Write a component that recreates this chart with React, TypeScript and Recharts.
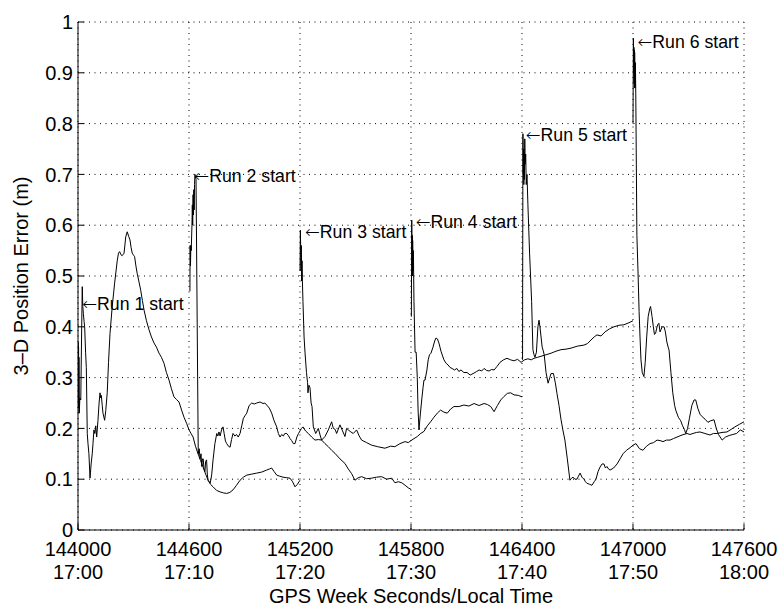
import { LineChart, Line, XAxis, YAxis, CartesianGrid, ReferenceDot } from 'recharts';

const FONT = '"Liberation Sans", Arial, Helvetica, sans-serif';

const xTicks = [144000, 144600, 145200, 145800, 146400, 147000, 147600];
const timeLabels = ['17:00', '17:10', '17:20', '17:30', '17:40', '17:50', '18:00'];
const yTicks = [0, 0.1, 0.2, 0.3, 0.4, 0.5, 0.6, 0.7, 0.8, 0.9, 1];

// [GPS week seconds, 3-D error (m)]
const run1: [number, number][] = [
  [144000, 0.23], [144001, 0.37], [144002, 0.25], [144003, 0.36], [144004, 0.24], [144005, 0.34], [144007, 0.23],
  [144010, 0.26], [144015, 0.256], [144020, 0.4], [144023, 0.479], [144026, 0.44], [144029, 0.426], [144033, 0.41],
  [144036, 0.4], [144041, 0.35], [144045, 0.32], [144050, 0.19], [144054, 0.17], [144059, 0.15], [144065, 0.102],
  [144071, 0.13], [144077, 0.15], [144081, 0.17], [144086, 0.197], [144091, 0.19], [144096, 0.205], [144101, 0.183],
  [144108, 0.216], [144114, 0.25], [144119, 0.27], [144123, 0.26], [144126, 0.265], [144131, 0.245], [144135, 0.23],
  [144144, 0.216], [144150, 0.235], [144158, 0.27], [144165, 0.33], [144173, 0.387], [144185, 0.44], [144198, 0.486],
  [144212, 0.53], [144219, 0.545], [144225, 0.548], [144232, 0.542], [144239, 0.54], [144249, 0.545], [144258, 0.577],
  [144266, 0.587], [144274, 0.578], [144281, 0.571], [144287, 0.556], [144293, 0.545], [144300, 0.541], [144306, 0.538],
  [144313, 0.52], [144320, 0.505], [144330, 0.488], [144339, 0.472], [144348, 0.452], [144357, 0.433], [144370, 0.412],
  [144384, 0.394], [144397, 0.38], [144411, 0.368], [144424, 0.36], [144438, 0.348], [144451, 0.34], [144465, 0.328],
  [144478, 0.31], [144492, 0.295], [144505, 0.278], [144519, 0.262], [144532, 0.257], [144546, 0.252], [144560, 0.236],
  [144573, 0.222], [144587, 0.21], [144600, 0.197], [144611, 0.19], [144622, 0.183], [144635, 0.165], [144649, 0.15],
  [144662, 0.137], [144676, 0.124], [144690, 0.11], [144703, 0.098], [144716, 0.09], [144730, 0.085], [144749, 0.078],
  [144768, 0.075], [144786, 0.073], [144804, 0.072], [144821, 0.074], [144838, 0.079], [144857, 0.088], [144876, 0.098],
  [144894, 0.104], [144912, 0.108], [144939, 0.11], [144966, 0.112], [144993, 0.114], [145020, 0.118], [145034, 0.12],
  [145047, 0.122], [145060, 0.115], [145074, 0.108], [145090, 0.106], [145108, 0.104], [145127, 0.103], [145146, 0.102],
  [145160, 0.095], [145173, 0.085], [145186, 0.09], [145200, 0.098],
];

const run2: [number, number][] = [
  [144605, 0.47], [144606, 0.56], [144608, 0.52], [144610, 0.56], [144612, 0.55], [144616, 0.6], [144618, 0.64],
  [144620, 0.6], [144622, 0.66], [144624, 0.62], [144626, 0.67], [144628, 0.63], [144630, 0.68], [144632, 0.7],
  [144638, 0.69], [144650, 0.15], [144655, 0.16], [144660, 0.14], [144665, 0.15], [144669, 0.125], [144673, 0.14],
  [144677, 0.14], [144681, 0.12], [144686, 0.115], [144690, 0.135], [144695, 0.138], [144699, 0.11], [144703, 0.098],
  [144709, 0.095], [144714, 0.092], [144719, 0.1], [144723, 0.11], [144730, 0.138], [144740, 0.17], [144750, 0.19],
  [144756, 0.185], [144762, 0.193], [144768, 0.185], [144776, 0.197], [144784, 0.203], [144790, 0.19], [144797, 0.175],
  [144804, 0.17], [144813, 0.165], [144822, 0.163], [144830, 0.178], [144838, 0.19], [144848, 0.185], [144857, 0.188],
  [144866, 0.183], [144876, 0.19], [144885, 0.205], [144894, 0.22], [144903, 0.225], [144912, 0.23], [144925, 0.245],
  [144939, 0.25], [144952, 0.248], [144966, 0.25], [144984, 0.252], [145000, 0.249], [145010, 0.25], [145020, 0.246],
  [145034, 0.24], [145047, 0.23], [145060, 0.215], [145074, 0.203], [145083, 0.19], [145092, 0.183], [145101, 0.188],
  [145110, 0.185], [145118, 0.19], [145128, 0.19], [145137, 0.186], [145146, 0.18], [145155, 0.176], [145164, 0.17],
  [145173, 0.17], [145183, 0.183], [145192, 0.19], [145200, 0.195], [145208, 0.2], [145216, 0.203], [145230, 0.195],
  [145245, 0.19], [145263, 0.183], [145281, 0.177], [145299, 0.178], [145317, 0.177], [145335, 0.17], [145353, 0.164],
  [145371, 0.157], [145389, 0.151], [145416, 0.14], [145443, 0.131], [145461, 0.12], [145479, 0.111], [145497, 0.098],
  [145515, 0.103], [145533, 0.105], [145560, 0.101], [145587, 0.102], [145614, 0.104], [145641, 0.105], [145668, 0.1],
  [145696, 0.102], [145713, 0.093], [145731, 0.095], [145750, 0.093], [145768, 0.088], [145785, 0.083], [145800, 0.08],
];

const run3: [number, number][] = [
  [145200, 0.51], [145202, 0.59], [145204, 0.55], [145206, 0.51], [145207, 0.56], [145209, 0.49], [145211, 0.53],
  [145213, 0.49], [145216, 0.45], [145222, 0.38], [145227, 0.35], [145235, 0.31], [145241, 0.29], [145243, 0.27],
  [145248, 0.285], [145254, 0.28], [145260, 0.25], [145265, 0.243], [145272, 0.203], [145285, 0.19], [145299, 0.2],
  [145310, 0.185], [145317, 0.177], [145335, 0.184], [145353, 0.197], [145371, 0.213], [145380, 0.2], [145390, 0.198],
  [145398, 0.19], [145416, 0.207], [145430, 0.195], [145443, 0.184], [145452, 0.2], [145461, 0.197], [145475, 0.193],
  [145488, 0.19], [145506, 0.197], [145520, 0.185], [145533, 0.177], [145560, 0.172], [145587, 0.167], [145620, 0.164],
  [145659, 0.161], [145690, 0.165], [145713, 0.164], [145740, 0.17], [145768, 0.174], [145785, 0.172], [145804, 0.177],
  [145834, 0.184], [145852, 0.19], [145870, 0.194], [145888, 0.205], [145906, 0.213], [145924, 0.222], [145942, 0.23],
  [145960, 0.236], [145978, 0.232], [145996, 0.23], [146014, 0.238], [146032, 0.243], [146059, 0.243], [146086, 0.246],
  [146113, 0.244], [146141, 0.249], [146168, 0.245], [146195, 0.249], [146213, 0.247], [146231, 0.243], [146249, 0.233],
  [146267, 0.245], [146285, 0.256], [146303, 0.263], [146321, 0.269], [146339, 0.27], [146357, 0.266], [146380, 0.265],
  [146400, 0.262],
];

const run4: [number, number][] = [
  [145802, 0.42], [145804, 0.61], [145806, 0.52], [145807, 0.58], [145808, 0.5], [145809, 0.57], [145811, 0.51],
  [145813, 0.55], [145816, 0.45], [145822, 0.35], [145828, 0.35], [145834, 0.3], [145838, 0.24], [145843, 0.197],
  [145851, 0.23], [145859, 0.26], [145865, 0.28], [145870, 0.295], [145876, 0.295], [145886, 0.315], [145893, 0.335],
  [145900, 0.345], [145908, 0.348], [145919, 0.36], [145928, 0.372], [145935, 0.378], [145943, 0.376], [145951, 0.368],
  [145962, 0.352], [145978, 0.335], [145990, 0.328], [146000, 0.325], [146011, 0.32], [146022, 0.318], [146035, 0.315],
  [146048, 0.318], [146059, 0.312], [146070, 0.315], [146086, 0.31], [146103, 0.31], [146120, 0.305], [146141, 0.309],
  [146155, 0.312], [146168, 0.315], [146182, 0.313], [146195, 0.318], [146209, 0.314], [146222, 0.313], [146236, 0.316],
  [146249, 0.315], [146265, 0.322], [146281, 0.33], [146300, 0.335], [146319, 0.338], [146338, 0.335], [146357, 0.333],
  [146376, 0.336], [146395, 0.33], [146414, 0.335], [146432, 0.337], [146450, 0.335], [146465, 0.338], [146485, 0.34],
  [146503, 0.342], [146530, 0.345], [146557, 0.348], [146584, 0.352], [146611, 0.355], [146638, 0.356], [146665, 0.358],
  [146700, 0.362], [146735, 0.364], [146754, 0.367], [146773, 0.374], [146790, 0.38], [146805, 0.384], [146827, 0.382],
  [146849, 0.39], [146873, 0.396], [146897, 0.4], [146924, 0.403], [146951, 0.404], [146978, 0.408], [147000, 0.412],
];

const run5: [number, number][] = [
  [146403, 0.335], [146405, 0.78], [146407, 0.7], [146408, 0.75], [146410, 0.68], [146411, 0.74], [146413, 0.69],
  [146415, 0.77], [146417, 0.72], [146420, 0.74], [146423, 0.68], [146427, 0.7], [146432, 0.64], [146441, 0.545],
  [146452, 0.45], [146459, 0.355], [146465, 0.345], [146470, 0.34], [146478, 0.35], [146486, 0.4], [146492, 0.413],
  [146497, 0.4], [146503, 0.38], [146509, 0.36], [146514, 0.354], [146520, 0.345], [146530, 0.31], [146541, 0.289],
  [146550, 0.3], [146557, 0.308], [146570, 0.308], [146580, 0.29], [146589, 0.269], [146600, 0.245], [146611, 0.217],
  [146622, 0.195], [146632, 0.177], [146645, 0.14], [146659, 0.098], [146668, 0.102], [146676, 0.104], [146686, 0.1],
  [146697, 0.1], [146705, 0.106], [146714, 0.112], [146724, 0.104], [146735, 0.1], [146743, 0.095], [146751, 0.092],
  [146765, 0.09], [146778, 0.088], [146790, 0.095], [146800, 0.1], [146811, 0.115], [146822, 0.124], [146833, 0.13],
  [146843, 0.13], [146851, 0.122], [146859, 0.125], [146868, 0.12], [146876, 0.118], [146895, 0.122], [146914, 0.13],
  [146930, 0.14], [146946, 0.15], [146965, 0.157], [146984, 0.162], [147000, 0.167], [147016, 0.17], [147035, 0.16],
  [147054, 0.157], [147073, 0.165], [147092, 0.17], [147111, 0.172], [147130, 0.177], [147146, 0.176], [147162, 0.174],
  [147181, 0.177], [147200, 0.177], [147219, 0.18], [147238, 0.183], [147265, 0.187], [147292, 0.19], [147308, 0.188],
  [147324, 0.19], [147343, 0.192], [147362, 0.193], [147389, 0.19], [147416, 0.187], [147435, 0.19], [147454, 0.19],
  [147481, 0.192], [147508, 0.193], [147530, 0.198], [147551, 0.203], [147575, 0.208], [147600, 0.213],
];

const run6: [number, number][] = [
  [147000, 0.8], [147002, 0.968], [147004, 0.9], [147005, 0.95], [147006, 0.88], [147007, 0.945], [147008, 0.87],
  [147009, 0.94], [147011, 0.87], [147013, 0.92], [147015, 0.86], [147018, 0.72], [147021, 0.58], [147027, 0.51],
  [147033, 0.43], [147038, 0.38], [147043, 0.335], [147050, 0.31], [147059, 0.302], [147066, 0.33], [147074, 0.38],
  [147082, 0.42], [147090, 0.435], [147095, 0.44], [147103, 0.42], [147110, 0.4], [147116, 0.385], [147122, 0.387],
  [147130, 0.4], [147135, 0.405], [147140, 0.407], [147146, 0.39], [147152, 0.395], [147158, 0.4], [147168, 0.4],
  [147175, 0.39], [147183, 0.37], [147190, 0.36], [147195, 0.354], [147205, 0.31], [147215, 0.27], [147225, 0.245],
  [147231, 0.236], [147245, 0.222], [147258, 0.215], [147268, 0.205], [147278, 0.198], [147285, 0.19], [147295, 0.2],
  [147305, 0.22], [147318, 0.245], [147330, 0.256], [147339, 0.256], [147350, 0.24], [147362, 0.228], [147374, 0.223],
  [147390, 0.218], [147405, 0.212], [147420, 0.215], [147438, 0.217], [147450, 0.2], [147462, 0.188], [147482, 0.177],
  [147500, 0.183], [147520, 0.186], [147540, 0.188], [147560, 0.19], [147580, 0.197], [147600, 0.193],
];

const runs = [run1, run2, run3, run4, run5, run6];

// where each "Run N start" arrow points
const startT = [144023, 144629, 145227, 145825, 146420, 147024];
const startV = [0.446, 0.698, 0.587, 0.607, 0.778, 0.961];
const startLabels = ['Run 1 start', 'Run 2 start', 'Run 3 start', 'Run 4 start', 'Run 5 start', 'Run 6 start'];

function XTick(props: any) {
  const { x, y, payload } = props;
  const i = xTicks.indexOf(payload.value);
  return (
    <g fontFamily={FONT} fontSize={20} fill="#000" textAnchor="middle">
      <text x={x} y={y + 26}>{payload.value}</text>
      <text x={x} y={y + 49}>{timeLabels[i]}</text>
    </g>
  );
}

function YLabel() {
  return (
    <text x={28} y={276} transform="rotate(-90 28 276)" textAnchor="middle" fontFamily={FONT} fontSize={20} fill="#000">
      3–D Position Error (m)
    </text>
  );
}

function XLabel() {
  return (
    <text x={411} y={603} textAnchor="middle" fontFamily={FONT} fontSize={20} fill="#000">
      GPS Week Seconds/Local Time
    </text>
  );
}

// text starts at the point, arrow first, vertically centred on it
function StartLabel(props: any) {
  const { viewBox, text } = props;
  const x = viewBox.x + (viewBox.width || 0);
  const y = viewBox.y + (viewBox.height || 0) / 2;
  return (
    <text x={x} y={y} dy="0.36em" fontSize={17.7} fontFamily={FONT} fill="#000">
      <tspan fontFamily='"DejaVu Sans", sans-serif' fontWeight={200}>←</tspan>
      {text}
    </text>
  );
}

export default function App() {
  return (
    <div style={{ position: 'absolute', left: 0, top: 0, background: '#fff' }}>
      <LineChart width={784} height={607} margin={{ top: 22, right: 40, bottom: 0, left: 0 }}>
        <CartesianGrid stroke="#000" strokeDasharray="1 4.5" />
        <XAxis
          dataKey="t"
          type="number"
          domain={[144000, 147600]}
          ticks={xTicks}
          interval={0}
          allowDataOverflow
          height={77}
          tickSize={-6}
          tickMargin={6}
          tick={<XTick />}
          axisLine={{ stroke: '#000' }}
          tickLine={{ stroke: '#000' }}
          label={<XLabel />}
        />
        <YAxis
          type="number"
          domain={[0, 1]}
          ticks={yTicks}
          interval={0}
          width={78}
          tickSize={-6}
          tickMargin={11}
          tickFormatter={(v: number) => String(v)}
          tick={{ fill: '#000', fontSize: 20, fontFamily: FONT }}
          axisLine={{ stroke: '#000' }}
          tickLine={{ stroke: '#000' }}
          label={<YLabel />}
        />
        {runs.map((r, i) => (
          <Line
            key={i}
            data={r.map(([t, v]) => ({ t, v }))}
            dataKey="v"
            type="linear"
            stroke="#000"
            strokeWidth={1}
            dot={false}
            activeDot={false}
            isAnimationActive={false}
          />
        ))}
        {startT.map((t, i) => (
          <ReferenceDot
            key={'s' + i}
            x={t}
            y={startV[i]}
            r={0}
            fill="none"
            stroke="none"
            label={<StartLabel text={startLabels[i]} />}
          />
        ))}
      </LineChart>
    </div>
  );
}
